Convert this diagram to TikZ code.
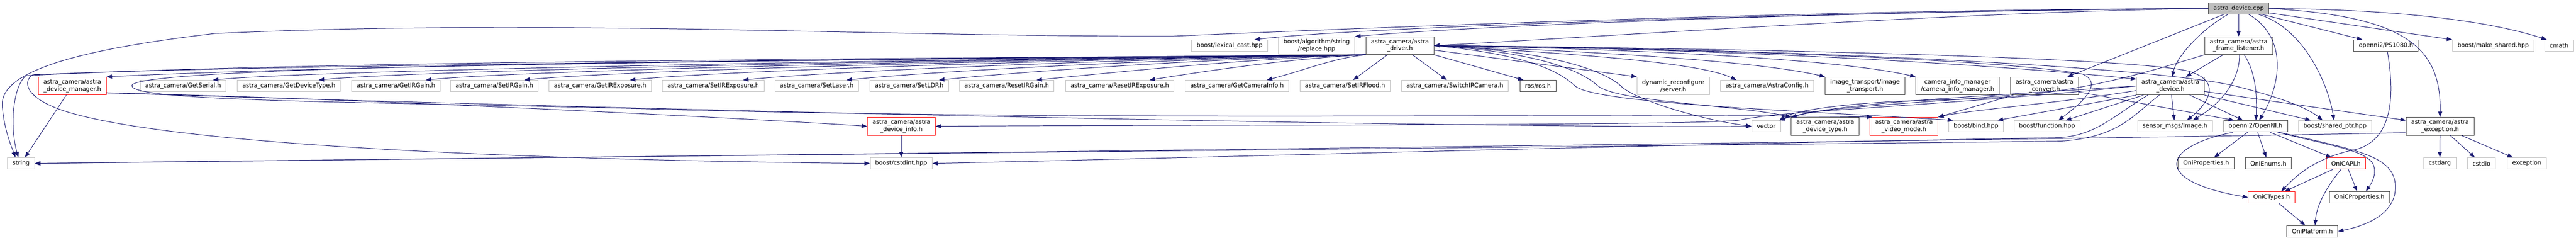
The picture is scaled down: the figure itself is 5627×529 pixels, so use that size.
\documentclass[tikz,border=0pt]{standalone}
\usepackage{fontspec}
\setmainfont{DejaVu Sans}
\usetikzlibrary{arrows.meta}
\definecolor{edgeblue}{HTML}{191970}
\definecolor{extgray}{HTML}{BFBFBF}
\definecolor{docgray}{HTML}{404040}

\begin{document}
\begin{tikzpicture}[x=1pt,y=-1pt,>={Triangle[length=12pt,width=9pt]},
    incedge/.style={->,color=edgeblue,line width=1.1pt}]
	\useasboundingbox (0,0) rectangle (5627,529);
	\tikzset{every node/.style={rectangle,fill=white,inner xsep=11pt,inner ysep=0pt,minimum height=25pt,line width=1pt,font=\fontsize{13}{15}\selectfont}}
	\tikzset{extfile/.style={draw=extgray},docfile/.style={draw=docgray},cutfile/.style={draw=red},
	  srcfile/.style={draw=docgray,fill=extgray},twoline/.style={align=center,minimum height=39pt}}
	% top
	\node[srcfile] (root) at (4890,18.5) {astra\_device.cpp};
	\node[extfile] (lexcast) at (2686,99.5) {boost/lexical\_cast.hpp};
	\node[extfile,twoline] (replace) at (2876,99.5) {boost/algorithm/string\\/replace.hpp};
	\node[docfile,twoline] (driver) at (3058,99.5) {astra\_camera/astra\\\_driver.h};
	\node[docfile,twoline] (listener) at (4890,99.5) {astra\_camera/astra\\\_frame\_listener.h};
	\node[docfile] (ps1080) at (5212,99.5) {openni2/PS1080.h};
	\node[extfile] (mkshared) at (5446,99.5) {boost/make\_shared.hpp};
	\node[extfile] (cmath) at (5590,99.5) {cmath};
	% second row
	\node[cutfile,twoline] (manager) at (158,187.5) {astra\_camera/astra\\\_device\_manager.h};
	\node[extfile] (getserial) at (400,187.5) {astra\_camera/GetSerial.h};
	\node[extfile] (getdevtype) at (631,187.5) {astra\_camera/GetDeviceType.h};
	\node[extfile] (getirgain) at (865,187.5) {astra\_camera/GetIRGain.h};
	\node[extfile] (setirgain) at (1080,187.5) {astra\_camera/SetIRGain.h};
	\node[extfile] (getirexp) at (1311,187.5) {astra\_camera/GetIRExposure.h};
	\node[extfile] (setirexp) at (1558,187.5) {astra\_camera/SetIRExposure.h};
	\node[extfile] (setlaser) at (1784,187.5) {astra\_camera/SetLaser.h};
	\node[extfile] (setldp) at (1986,187.5) {astra\_camera/SetLDP.h};
	\node[extfile] (resetirgain) at (2199,187.5) {astra\_camera/ResetIRGain.h};
	\node[extfile] (resetirexp) at (2446,187.5) {astra\_camera/ResetIRExposure.h};
	\node[extfile] (getcaminfo) at (2702,187.5) {astra\_camera/GetCameraInfo.h};
	\node[extfile] (setirflood) at (2938,187.5) {astra\_camera/SetIRFlood.h};
	\node[extfile] (switchir) at (3178,187.5) {astra\_camera/SwitchIRCamera.h};
	\node[docfile] (ros) at (3359.5,187.5) {ros/ros.h};
	\node[extfile,twoline] (dynreconf) at (3655,187.5) {dynamic\_reconfigure\\/server.h};
	\node[extfile] (astracfg) at (3860,187.5) {astra\_camera/AstraConfig.h};
	\node[docfile,twoline] (imgtrans) at (4074,187.5) {image\_transport/image\\\_transport.h};
	\node[docfile,twoline] (caminfo) at (4276,187.5) {camera\_info\_manager\\/camera\_info\_manager.h};
	\node[docfile,twoline] (convert) at (4466,187.5) {astra\_camera/astra\\\_convert.h};
	\node[docfile,twoline] (device) at (4741,187.5) {astra\_camera/astra\\\_device.h};
	% third row
	\node[cutfile,twoline] (devinfo) at (1969,275.5) {astra\_camera/astra\\\_device\_info.h};
	\node[extfile] (vector) at (3858,275.5) {vector};
	\node[docfile,twoline] (devtype) at (3987,275.5) {astra\_camera/astra\\\_device\_type.h};
	\node[cutfile,twoline] (videomode) at (4159,275.5) {astra\_camera/astra\\\_video\_mode.h};
	\node[extfile] (bind) at (4316.5,275.5) {boost/bind.hpp};
	\node[extfile] (function) at (4471.5,275.5) {boost/function.hpp};
	\node[extfile] (image) at (4751,275.5) {sensor\_msgs/Image.h};
	\node[docfile] (openni) at (4927,275.5) {openni2/OpenNI.h};
	\node[extfile] (sharedptr) at (5100.5,275.5) {boost/shared\_ptr.hpp};
	\node[docfile,twoline] (exception) at (5330,275.5) {astra\_camera/astra\\\_exception.h};
	% lower rows
	\node[extfile] (string) at (46,356.5) {string};
	\node[extfile] (cstdint) at (1968.5,356.5) {boost/cstdint.hpp};
	\node[docfile] (oniprop) at (4819,356.5) {OniProperties.h};
	\node[docfile] (onienums) at (4955,356.5) {OniEnums.h};
	\node[cutfile] (onicapi) at (5124.5,356.5) {OniCAPI.h};
	\node[extfile] (cstdarg) at (5329.5,356.5) {cstdarg};
	\node[extfile] (cstdio) at (5420.5,356.5) {cstdio};
	\node[extfile] (stdexcept) at (5519.5,356.5) {exception};
	\node[cutfile] (onictypes) at (4962,430.5) {OniCTypes.h};
	\node[docfile] (onicprop) at (5154,430.5) {OniCProperties.h};
	\node[docfile] (oniplat) at (5051,504.5) {OniPlatform.h};

	% from the source file
	\draw[incedge] (root) -- (listener);
	\draw[incedge] (root) .. controls (4815,60) and (4755,120) .. (device);
	\draw[incedge] (root) .. controls (4995,80) and (4985,180) .. (openni);
	\draw[incedge] (root) .. controls (5030,60) and (5085,180) .. (sharedptr);
	\draw[incedge] (root) -- (ps1080);
	\draw[incedge] (root) -- (mkshared);
	\draw[incedge] (root.east) .. controls (5200,20) and (5420,40) .. ([xshift=-27pt]cmath.north);
	\draw[incedge] (root.east) .. controls (5250,35) and (5333,100) .. (exception.north);
	\draw[incedge] (root) -- (convert);
	\draw[incedge] (root.west) .. controls (4000,20) and (3000,60) .. (2560,79) .. controls (1900,80) and (1200,40) .. (470,73)
	  .. controls (150,110) and (0,160) .. (5,230) .. controls (8,280) and (25,320) .. ([xshift=-12pt]string.north);
	\draw[incedge] (root.west) .. controls (4200,22) and (3000,55) .. ([xshift=54pt]lexcast.north);
	\draw[incedge] (root.west) .. controls (4200,22) and (3300,50) .. (replace.north east);
	\draw[incedge] (root.west) .. controls (4300,25) and (3500,80) .. (driver.east);

	% driver
	\foreach \hdr/\ca/\cb in {getserial/2102/695,getdevtype/2183/926,getirgain/2265/1160,setirgain/2340/1375,
	    getirexp/2421/1606,setirexp/2508/1853,setlaser/2587/2079,setldp/2657/2281,resetirgain/2732/2494,
	    resetirexp/2818/2653,getcaminfo/2908/2854}
	  \draw[incedge] (driver.south west) .. controls (\ca,128) and (\cb,152) .. ([xshift=65pt]\hdr.north);
	\draw[incedge] (driver) -- (setirflood);
	\draw[incedge] (driver) -- (switchir);
	\draw[incedge] (driver.south east) -- ([xshift=8pt]ros.north west);
	\draw[incedge] (driver) -- (dynreconf.north west);
	\draw[incedge] (driver.east) .. controls (3500,120) and (3720,140) .. ([xshift=-67pt]astracfg.north);
	\draw[incedge] (driver.east) .. controls (3500,112) and (3850,135) .. (imgtrans.north west);
	\draw[incedge] (driver.east) .. controls (3500,105) and (4000,125) .. (caminfo.north west);
	\draw[incedge] (driver.east) .. controls (3700,105) and (4300,135) .. ([yshift=-5pt]device.north west);
	\draw[incedge] (driver.east) .. controls (3800,105) and (4650,125) .. (4780,155) .. controls (4850,175) and (4830,220) .. ([xshift=26pt]image.north);
	\draw[incedge] (driver.east) .. controls (3900,105) and (4700,145) .. (4880,187) .. controls (4980,212) and (5040,235) .. ([xshift=-27pt]sharedptr.north);
	\draw[incedge] (driver.east) .. controls (3800,108) and (4400,132) .. (4550,162) .. controls (4590,180) and (4560,215) .. ([xshift=25pt]function.north);
	\draw[incedge] (driver.east) .. controls (3350,120) and (3410,160) .. (3440,187) .. controls (3480,225) and (3900,240) .. ([xshift=-50pt]bind.north);
	\draw[incedge] (driver.east) .. controls (3380,115) and (3460,160) .. (3490,187) .. controls (3530,222) and (3800,230) .. (devtype.north west);
	\draw[incedge] (driver.east) .. controls (3410,112) and (3510,160) .. (3540,187) .. controls (3570,218) and (3720,262) .. (vector.west);
	\draw[incedge] (driver.south west) .. controls (2000,128) and (800,140) .. (manager.north east);
	\draw[incedge] (driver.south west) .. controls (2000,128) and (700,132) .. (57,165) .. controls (30,185) and (20,270) .. ([xshift=-6pt]string.north);
	\draw[incedge] (driver.south west) .. controls (2000,130) and (600,140) .. (72,163) .. controls (50,175) and (50,215) .. (150,245)
	  .. controls (400,320) and (1200,350) .. (cstdint.west);
	\draw[incedge] (driver.south west) .. controls (1800,130) and (288,140) .. (288,187) .. controls (288,225) and (900,222) .. (1500,240)
	  .. controls (2500,265) and (3500,245) .. ([xshift=-69pt]videomode.north);

	% device manager and info
	\draw[incedge] (manager) -- (string);
	\draw[incedge] ([yshift=-15pt]manager.east) .. controls (800,215) and (1700,262) .. (devinfo.west);
	\draw[incedge] ([yshift=-15pt]manager.east) .. controls (1000,228) and (3000,280) .. (vector.west);
	\draw[incedge] (devinfo) -- (cstdint);

	% frame listener and convert
	\draw[incedge] (listener) -- (device);
	\draw[incedge] ([xshift=2pt]listener.south) .. controls (4892,170) and (4860,220) .. ([xshift=39pt]image.north);
	\draw[incedge] ([xshift=12pt]listener.south) .. controls (4930,160) and (4930,220) .. (openni);
	\draw[incedge] (listener.south west) .. controls (4650,170) and (4500,215) .. (4230,218) .. controls (4050,222) and (3920,240) .. ([xshift=29pt]vector.north);
	\draw[incedge] ([yshift=-13pt]convert.east) -- ([xshift=-47pt]openni.north);
	\draw[incedge] ([xshift=-68pt]convert.south) -- (videomode.north east);
	\draw[incedge] ([xshift=-76pt]convert.south) .. controls (4200,225) and (4000,232) .. (devtype.north west);

	% device
	\draw[incedge] (device.west) .. controls (4300,212) and (4000,225) .. ([xshift=29pt]vector.north);
	\draw[incedge] ([yshift=-10pt]device.west) .. controls (4500,225) and (4300,240) .. (videomode.north east);
	\draw[incedge] (device.south west) -- ([xshift=47pt]bind.north);
	\draw[incedge] ([xshift=-59pt]device.south) -- ([xshift=41pt]function.north);
	\draw[incedge] (device) -- (image);
	\draw[incedge] (device) -- (openni);
	\draw[incedge] (device.south east) -- ([xshift=-53pt]sharedptr.north);
	\draw[incedge] ([yshift=-12pt]device.east) -- ([yshift=-7pt]exception.north west);
	\draw[incedge] ([xshift=-49pt]device.south) .. controls (4620,250) and (4580,295) .. (4500,300) .. controls (3500,318) and (2600,345) .. (cstdint.east);
	\draw[incedge] ([xshift=-24pt]device.south) .. controls (4660,250) and (4630,300) .. (4500,308) .. controls (3000,325) and (1000,345) .. (string.east);
	\draw[incedge] (device.west) .. controls (4200,235) and (3900,240) .. (3800,262) .. controls (3700,275) and (2500,272) .. (devinfo.east);

	% exception
	\draw[incedge] (exception) -- (cstdarg);
	\draw[incedge] (exception) -- (cstdio);
	\draw[incedge] (exception) -- (stdexcept);
	\draw[incedge] ([yshift=-14pt]exception.west) .. controls (4500,305) and (2000,335) .. (string.east);

	% openni
	\draw[incedge] (openni) -- (oniprop);
	\draw[incedge] (openni) -- (onienums);
	\draw[incedge] (openni) -- (onicapi);
	\draw[incedge] ([xshift=-49pt]openni.south) .. controls (4720,320) and (4700,395) .. (onictypes.west);
	\draw[incedge] ([xshift=48pt]openni.south) .. controls (5100,320) and (5180,330) .. (5186,365) .. controls (5190,385) and (5180,400) .. ([xshift=14pt]onicprop.north);
	\draw[incedge] ([xshift=52pt]openni.south) .. controls (5150,328) and (5225,340) .. (5232,400) .. controls (5238,460) and (5180,490) .. (oniplat.east);
	\draw[incedge] (onicapi) -- (onictypes);
	\draw[incedge] (onicapi) -- (onicprop);
	\draw[incedge] (onicapi) .. controls (5080,410) and (5060,450) .. ([xshift=6pt]oniplat.north);
	\draw[incedge] (onictypes) -- (oniplat);
	\draw[incedge] ([xshift=3pt]ps1080.south) .. controls (5230,200) and (5230,300) .. (5150,325) .. controls (5050,345) and (5010,390) .. ([xshift=21pt]onictypes.north);
\end{tikzpicture}
\end{document}
